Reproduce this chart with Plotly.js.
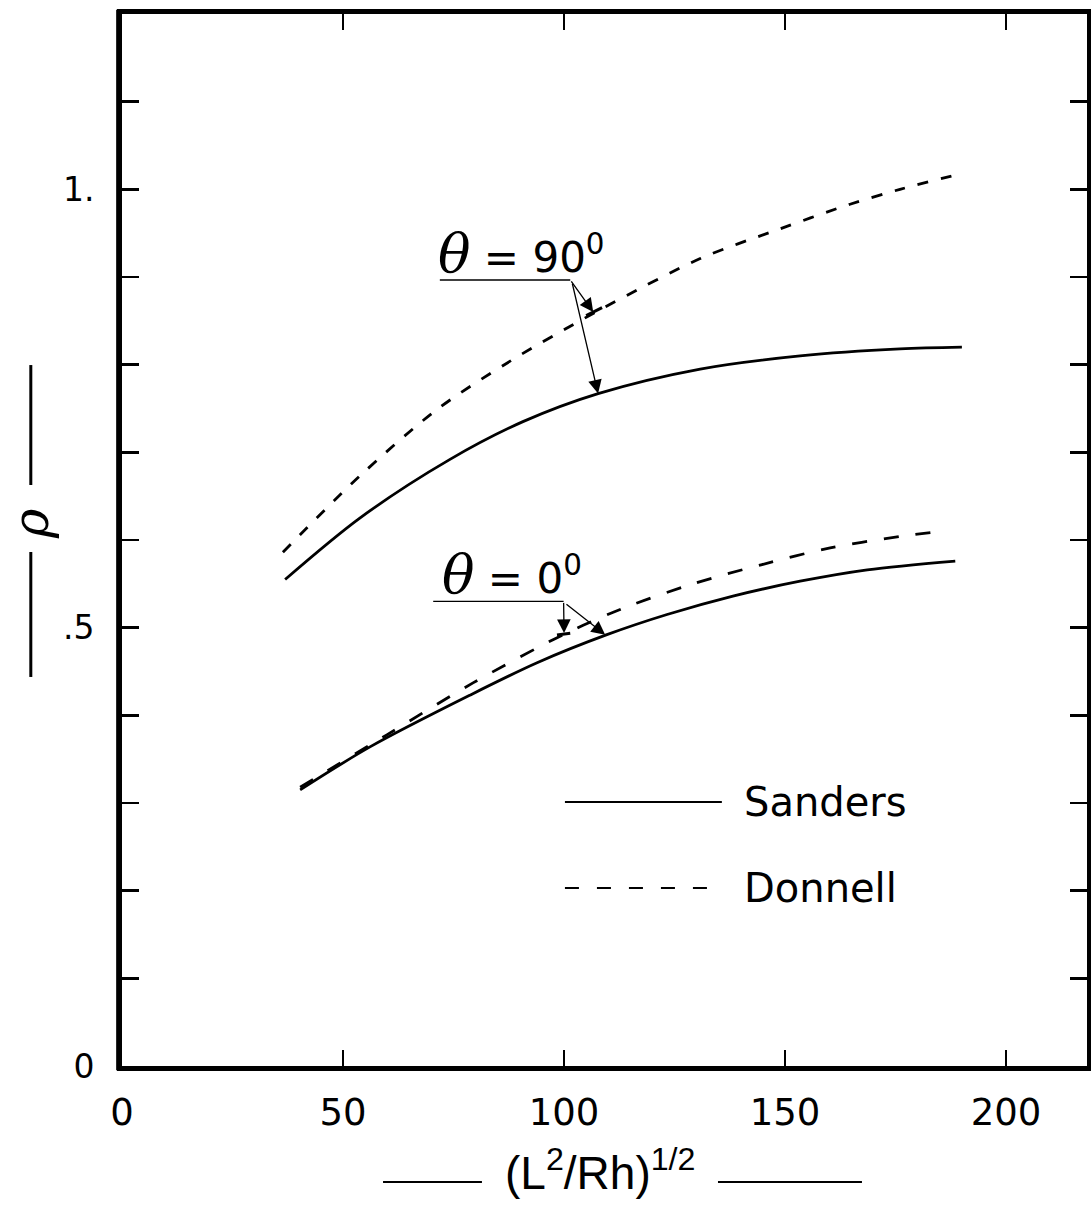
<!DOCTYPE html>
<html>
<head>
<meta charset="utf-8">
<script src="https://cdn.plot.ly/plotly-3.0.1.min.js"></script>
<style>
  html, body { margin: 0; padding: 0; background: #ffffff; }
  #chart { width: 1091px; height: 1205px; }
</style>
</head>
<body>
<div id="chart"></div>
<script>
// ---------------- data ----------------
// theta = 90 deg, Sanders (solid)
const x90Sanders = [36.9, 53.8, 74.2, 90.7, 107.7, 130.8, 153.4, 176.0, 190.0];
const y90Sanders = [0.555, 0.625, 0.692, 0.735, 0.767, 0.795, 0.810, 0.818, 0.820];
// theta = 90 deg, Donnell (dashed)
const x90Donnell = [36.4, 53.8, 71.3, 87.8, 104.3, 112.7, 130.8, 148.9, 164.7, 176.0, 189.1];
const y90Donnell = [0.586, 0.673, 0.749, 0.804, 0.852, 0.875, 0.921, 0.955, 0.983, 1.000, 1.017];
// theta = 0 deg, Sanders (solid)
const x0Sanders = [40.3, 56.1, 78.7, 93.9, 109.7, 123.3, 138.2, 153.4, 168.6, 188.5];
const y0Sanders = [0.315, 0.364, 0.423, 0.460, 0.492, 0.515, 0.536, 0.553, 0.566, 0.576];
// theta = 0 deg, Donnell (dashed)
const x0Donnell = [40.3, 60.0, 79.4, 99.8, 113.3, 129.2, 144.8, 160.2, 176.0, 185.7];
const y0Donnell = [0.318, 0.378, 0.437, 0.492, 0.522, 0.550, 0.572, 0.591, 0.604, 0.610];

// ticks
const xTickVals = [0, 50, 100, 150, 200];
const xTickText = ['0', '50', '100', '150', '200'];
const yTickVals = [0, 0.5, 1.0];
const yTickText = ['0', '.5', '1.'];
const yMinorStep = 0.1;

// labels
const seriesNames = ['Sanders', 'Donnell'];
const thetaLabels = ['90', '0'];
const xTitle = '(L<sup>2</sup>/Rh)<sup>1/2</sup>';
const yTitle = 'ρ';

// ---------------- styling ----------------
const BLACK = '#000000';
const SANS = 'DejaVu Sans, Liberation Sans, sans-serif';
const NARROW = 'Liberation Sans Narrow, Liberation Sans, Arial, sans-serif';

function curve(x, y, dashed, name) {
  return {
    type: 'scatter', mode: 'lines', x: x, y: y, name: name, showlegend: false,
    hoverinfo: 'skip',
    line: { color: BLACK, width: 2.8, shape: 'spline', smoothing: 0.9,
            dash: dashed ? dashed : 'solid' }
  };
}

const traces = [
  curve(x90Sanders, y90Sanders, null, seriesNames[0] + ' θ=90°'),
  curve(x90Donnell, y90Donnell, '11px,13px', seriesNames[1] + ' θ=90°'),
  curve(x0Sanders, y0Sanders, null, seriesNames[0] + ' θ=0°'),
  curve(x0Donnell, y0Donnell, '15px,17px', seriesNames[1] + ' θ=0°')
];

function thetaText(deg) {
  return '<span style="font-family:DejaVu Serif;font-style:italic;font-size:54px">θ</span>' +
         '<span style="font-size:42px"> = ' + deg + '<sup>0</sup></span>';
}

const arrowStyle = { text: '', showarrow: true, arrowhead: 2, arrowsize: 2.1, arrowwidth: 1.3,
                     arrowcolor: BLACK, xref: 'x', yref: 'y', axref: 'x', ayref: 'y' };

const annotations = [
  // theta labels
  { x: 71.0, y: 0.889, xref: 'x', yref: 'y', xanchor: 'left', yanchor: 'bottom',
    text: thetaText(thetaLabels[0]), showarrow: false, font: { family: SANS, size: 42, color: BLACK } },
  { x: 72.0, y: 0.523, xref: 'x', yref: 'y', xanchor: 'left', yanchor: 'bottom',
    text: thetaText(thetaLabels[1]), showarrow: false, font: { family: SANS, size: 42, color: BLACK } },
  // arrows theta = 90
  Object.assign({ x: 106.6, y: 0.860, ax: 101.4, ay: 0.8966 }, arrowStyle),
  Object.assign({ x: 107.7, y: 0.767, ax: 101.8, ay: 0.894 }, arrowStyle),
  // arrows theta = 0
  Object.assign({ x: 100.0, y: 0.494, ax: 99.9, ay: 0.530 }, arrowStyle),
  Object.assign({ x: 109.3, y: 0.492, ax: 100.2, ay: 0.528 }, arrowStyle),
  // legend texts
  { x: 140.3, y: 0.301, xref: 'x', yref: 'y', xanchor: 'left', yanchor: 'middle',
    text: seriesNames[0], showarrow: false, font: { family: SANS, size: 40, color: BLACK } },
  { x: 140.3, y: 0.203, xref: 'x', yref: 'y', xanchor: 'left', yanchor: 'middle',
    text: seriesNames[1], showarrow: false, font: { family: SANS, size: 40, color: BLACK } },
  // y title rho
  { x: -0.0945, y: 0.516, xref: 'paper', yref: 'paper', xanchor: 'center', yanchor: 'middle',
    text: '<i>' + yTitle + '</i>', textangle: -90, showarrow: false,
    font: { family: 'DejaVu Serif, serif', size: 50, color: BLACK } },
  // x title
  { x: 0.4953, y: -0.099, xref: 'paper', yref: 'paper', xanchor: 'center', yanchor: 'middle',
    text: xTitle, showarrow: false, font: { family: NARROW, size: 46, color: BLACK } }
];

const shapes = [
  // theta leader lines
  { type: 'line', xref: 'x', yref: 'y', x0: 71.9, x1: 101.4, y0: 0.8966, y1: 0.8966, line: { color: BLACK, width: 1.4 } },
  { type: 'line', xref: 'x', yref: 'y', x0: 70.4, x1: 99.9, y0: 0.530, y1: 0.530, line: { color: BLACK, width: 1.4 } },
  // arrow end bars
  { type: 'line', xref: 'x', yref: 'y', x0: 105.0, x1: 108.6, y0: 0.856, y1: 0.865, line: { color: BLACK, width: 3 } },
  { type: 'line', xref: 'x', yref: 'y', x0: 98.4, x1: 101.4, y0: 0.4916, y1: 0.4936, line: { color: BLACK, width: 3 } },
  // legend sample lines
  { type: 'line', xref: 'x', yref: 'y', x0: 100.2, x1: 135.7, y0: 0.301, y1: 0.301, line: { color: BLACK, width: 2 } },
  { type: 'line', xref: 'x', yref: 'y', x0: 100.2, x1: 135.7, y0: 0.203, y1: 0.203, line: { color: BLACK, width: 2, dash: '14px,18px' } },
  // y title rules
  { type: 'line', xref: 'paper', yref: 'paper', x0: -0.0945, x1: -0.0945, y0: 0.6663, y1: 0.5523, line: { color: BLACK, width: 3 } },
  { type: 'line', xref: 'paper', yref: 'paper', x0: -0.0945, x1: -0.0945, y0: 0.4886, y1: 0.3698, line: { color: BLACK, width: 3 } },
  // x title rules
  { type: 'line', xref: 'paper', yref: 'paper', x0: 0.2705, x1: 0.373, y0: -0.1103, y1: -0.1103, line: { color: BLACK, width: 2 } },
  { type: 'line', xref: 'paper', yref: 'paper', x0: 0.6176, x1: 0.7668, y0: -0.1103, y1: -0.1103, line: { color: BLACK, width: 2 } },
  // thicker left frame edge
  { type: 'line', xref: 'paper', yref: 'paper', x0: -0.0045, x1: -0.0045, y0: -0.004, y1: 1.004, line: { color: BLACK, width: 3 } }
];

const layout = {
  width: 1091, height: 1205,
  margin: { l: 122, r: 4, t: 14, b: 139, pad: 0 },
  paper_bgcolor: '#ffffff', plot_bgcolor: '#ffffff',
  showlegend: false,
  xaxis: {
    range: [0, 218.3], showgrid: false, zeroline: false,
    showline: true, linecolor: BLACK, linewidth: 5, mirror: 'allticks',
    ticks: 'inside', ticklen: 16, tickwidth: 2, tickcolor: BLACK,
    tickmode: 'array', tickvals: xTickVals, ticktext: xTickText,
    tickfont: { family: SANS, size: 37, color: BLACK }, ticklabelstandoff: 10
  },
  yaxis: {
    range: [0, 1.2], showgrid: false, zeroline: false,
    showline: true, linecolor: BLACK, linewidth: 5, mirror: 'allticks',
    ticks: 'inside', ticklen: 17, tickwidth: 2.5, tickcolor: BLACK,
    tickmode: 'array', tickvals: yTickVals, ticktext: yTickText,
    minor: { dtick: yMinorStep, tick0: 0, ticks: 'inside', ticklen: 17, tickwidth: 2.5, tickcolor: BLACK, showgrid: false },
    tickfont: { family: SANS, size: 33, color: BLACK }, ticklabelstandoff: 16
  },
  annotations: annotations,
  shapes: shapes
};

Plotly.newPlot('chart', traces, layout, { displayModeBar: false, staticPlot: true });
</script>
</body>
</html>
